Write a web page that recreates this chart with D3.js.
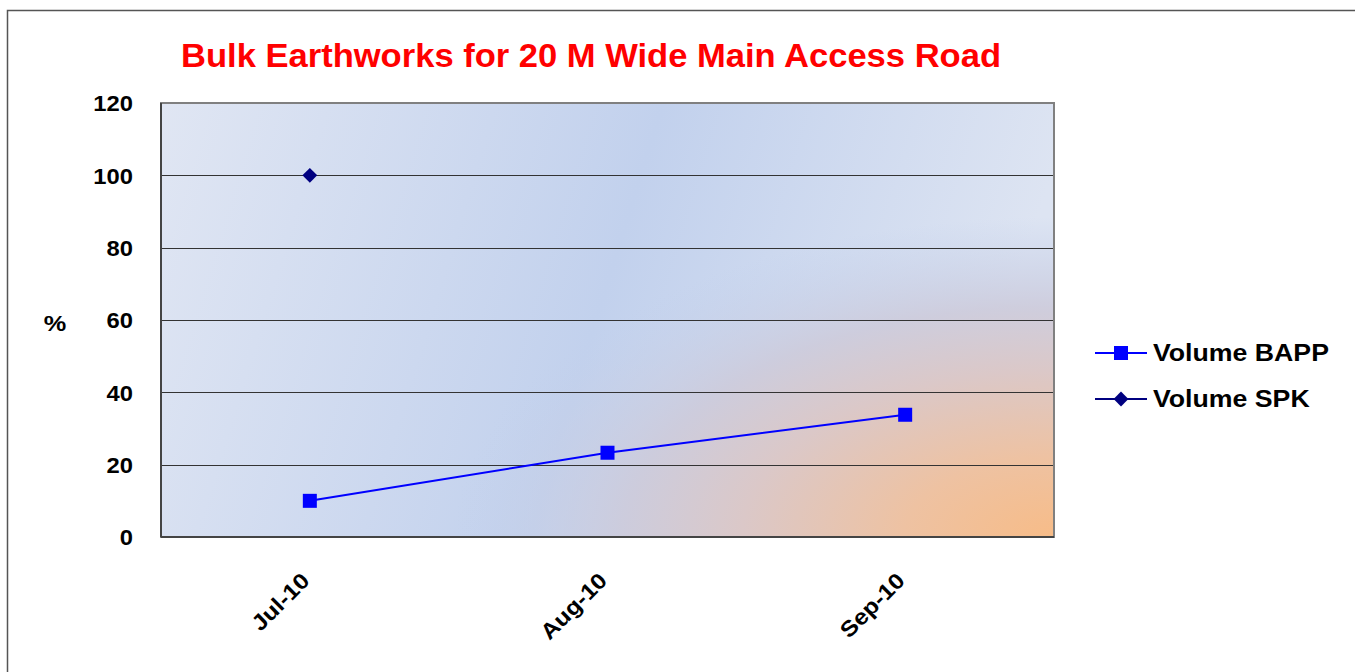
<!DOCTYPE html>
<html>
<head>
<meta charset="utf-8">
<script src="https://cdn.jsdelivr.net/npm/d3@7"></script>
<style>
body { margin: 0; background: #fff; }
text { font-family: Arial, "Liberation Sans", sans-serif; font-weight: bold; }
</style>
</head>
<body>
<script>
var months = ["Jul-10", "Aug-10", "Sep-10"];
var bappValues = [10, 23.3, 33.8];
var spkValues = [100, null, null];
var yTicks = [0, 20, 40, 60, 80, 100, 120];
var seriesNames = ["Volume BAPP", "Volume SPK"];

var width = 1355, height = 672;
var plot = {left: 161, top: 103, right: 1054, bottom: 537};

var svg = d3.select("body").append("svg")
    .attr("width", width).attr("height", height);

// widen text glyphs a bit, the original picture is stretched sideways
function stretch(sel, sx) {
  sel.each(function() {
    var w = this.getComputedTextLength();
    d3.select(this).attr("textLength", w * sx).attr("lengthAdjust", "spacingAndGlyphs");
  });
}

// outer chart border
svg.append("rect").attr("x", 7.5).attr("y", 10.5)
    .attr("width", 1360).attr("height", 680)
    .style("fill", "none").style("stroke", "#555").style("stroke-width", 1.5);

var defs = svg.append("defs");
var lin = defs.append("linearGradient").attr("id", "bgLin")
    .attr("x1", "0%").attr("y1", "0%").attr("x2", "100%").attr("y2", "15%");
lin.append("stop").attr("offset", "0%").attr("stop-color", "#e0e6f3");
lin.append("stop").attr("offset", "55%").attr("stop-color", "#c2d1ed");
lin.append("stop").attr("offset", "100%").attr("stop-color", "#dde4f2");

var rad = defs.append("radialGradient").attr("id", "bgRad")
    .attr("gradientUnits", "userSpaceOnUse")
    .attr("cx", 0).attr("cy", 0).attr("r", 1)
    .attr("gradientTransform", "translate(" + plot.right + "," + plot.bottom + ") scale(600,320)");
rad.append("stop").attr("offset", "0%").attr("stop-color", "#f7bc88").attr("stop-opacity", 1);
rad.append("stop").attr("offset", "25%").attr("stop-color", "#eec2a2").attr("stop-opacity", 1);
rad.append("stop").attr("offset", "52%").attr("stop-color", "#dbc8c8").attr("stop-opacity", 1);
rad.append("stop").attr("offset", "72%").attr("stop-color", "#cdcbdb").attr("stop-opacity", 0.9);
rad.append("stop").attr("offset", "100%").attr("stop-color", "#c2d0ec").attr("stop-opacity", 0);

var x = d3.scaleBand().domain(months).range([plot.left, plot.right]);
var y = d3.scaleLinear().domain([0, 120]).range([plot.bottom, plot.top]);

svg.append("rect").attr("x", plot.left).attr("y", plot.top)
    .attr("width", plot.right - plot.left).attr("height", plot.bottom - plot.top)
    .style("fill", "url(#bgLin)");
svg.append("rect").attr("x", plot.left).attr("y", plot.top)
    .attr("width", plot.right - plot.left).attr("height", plot.bottom - plot.top)
    .style("fill", "url(#bgRad)");

// gridlines
svg.append("g").selectAll("line").data(yTicks.slice(1, -1))
  .enter().append("line")
    .attr("x1", plot.left).attr("x2", plot.right)
    .attr("y1", function(d) { return Math.round(y(d)) + 0.5; })
    .attr("y2", function(d) { return Math.round(y(d)) + 0.5; })
    .style("stroke", "#333").style("stroke-width", 1);

// plot border
svg.append("rect").attr("x", plot.left).attr("y", plot.top)
    .attr("width", plot.right - plot.left).attr("height", plot.bottom - plot.top)
    .style("fill", "none").style("stroke", "#808080").style("stroke-width", 2);
svg.append("line").attr("x1", plot.left).attr("x2", plot.left)
    .attr("y1", plot.top).attr("y2", plot.bottom)
    .style("stroke", "#444").style("stroke-width", 2);
svg.append("line").attr("x1", plot.left).attr("x2", plot.right)
    .attr("y1", plot.bottom).attr("y2", plot.bottom)
    .style("stroke", "#444").style("stroke-width", 2);

// y axis
var yaxis = d3.axisLeft(y).tickValues(yTicks).tickSize(0).tickPadding(28);
var gy = svg.append("g").attr("transform", "translate(" + plot.left + ",0)").call(yaxis);
gy.select(".domain").remove();
gy.selectAll("text").style("font-size", "22px").attr("fill", "#000").attr("dy", "0.36em");
stretch(gy.selectAll("text"), 1.08);

var pct = svg.append("text").attr("x", 55).attr("y", 331).attr("text-anchor", "middle")
    .style("font-size", "22px").text("%");
stretch(pct, 1.15);

// x axis
var xaxis = d3.axisBottom(x).tickSize(0);
var gx = svg.append("g").attr("transform", "translate(0," + plot.bottom + ")").call(xaxis);
gx.select(".domain").remove();
gx.selectAll("text")
    .style("font-size", "22px").attr("fill", "#000")
    .attr("text-anchor", "end")
    .attr("dy", null).attr("y", 0)
    .attr("transform", "translate(1,45) rotate(-45)");
stretch(gx.selectAll("text"), 1.12);

// title
var title = svg.append("text").attr("x", 591).attr("y", 67).attr("text-anchor", "middle")
    .style("font-size", "33px").style("fill", "#ff0000")
    .text("Bulk Earthworks for 20 M Wide Main Access Road");
title.attr("textLength", 820).attr("lengthAdjust", "spacingAndGlyphs");

// BAPP line
var bappPts = months.map(function(m, i) { return {m: m, v: bappValues[i]}; });
var line = d3.line()
    .x(function(d) { return x(d.m) + x.bandwidth() / 2; })
    .y(function(d) { return y(d.v); });
svg.append("path").datum(bappPts).attr("d", line)
    .style("fill", "none").style("stroke", "#0000ff").style("stroke-width", 2);
svg.append("g").selectAll("rect").data(bappPts).enter().append("rect")
    .attr("x", function(d) { return x(d.m) + x.bandwidth() / 2 - 7; })
    .attr("y", function(d) { return y(d.v) - 7; })
    .attr("width", 14).attr("height", 14)
    .style("fill", "#0000ff");

// SPK points
var spkPts = months.map(function(m, i) { return {m: m, v: spkValues[i]}; })
    .filter(function(d) { return d.v != null; });
var diamond = d3.symbol().type(d3.symbolDiamond2).size(140);
svg.append("g").selectAll("path").data(spkPts).enter().append("path")
    .attr("d", diamond)
    .attr("transform", function(d) {
      return "translate(" + (x(d.m) + x.bandwidth() / 2) + "," + y(d.v) + ")";
    })
    .style("fill", "#000080");

// legend
var legend = svg.append("g");
var colors = ["#0000ff", "#000080"];
seriesNames.forEach(function(name, i) {
  var ly = 353 + i * 46;
  legend.append("line").attr("x1", 1095).attr("x2", 1147).attr("y1", ly).attr("y2", ly)
      .style("stroke", colors[i]).style("stroke-width", 2);
  if (i === 0) {
    legend.append("rect").attr("x", 1114).attr("y", ly - 7).attr("width", 14).attr("height", 14)
        .style("fill", colors[i]);
  } else {
    legend.append("path").attr("d", diamond).attr("transform", "translate(1121," + ly + ")")
        .style("fill", colors[i]);
  }
  var t = legend.append("text").attr("x", 1153).attr("y", ly + 8)
      .style("font-size", "23px").text(name);
  stretch(t, 1.16);
});
</script>
</body>
</html>
